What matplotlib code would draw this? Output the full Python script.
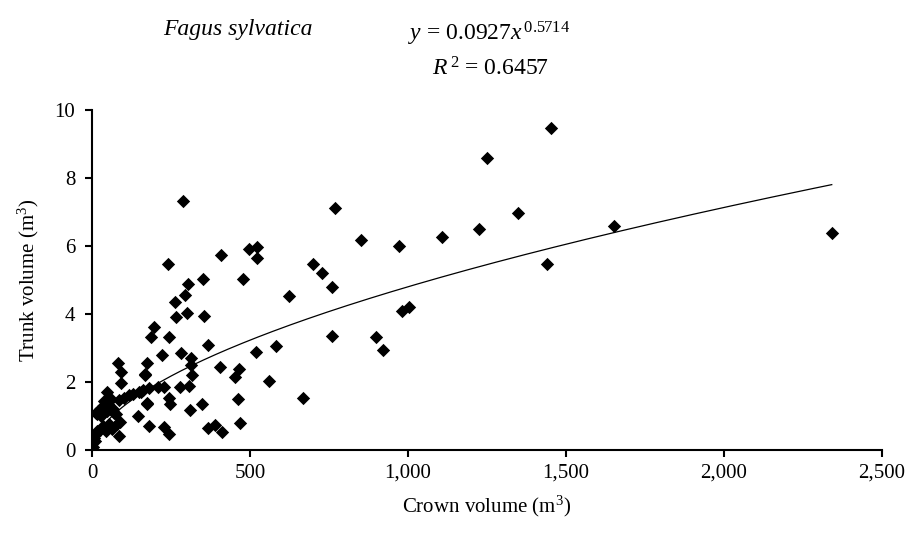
import numpy as np
import matplotlib
matplotlib.use("Agg")
from matplotlib import pyplot as plt
from matplotlib.ticker import FuncFormatter

# crown volume (m3) and trunk volume (m3)
crown = [2341, 1652, 1453, 1441, 1349, 1251, 1225, 1107, 1003, 980, 971, 920,
         898, 851, 770, 759, 758, 728, 700, 667, 622, 581, 559, 521, 521, 518,
         498, 479, 468, 466, 462, 454, 412, 408, 405, 389, 368, 368, 352, 354,
         347, 315, 313, 312, 310, 305, 302, 306, 294, 287, 282, 278, 266, 263,
         247, 245, 245, 244, 241, 229, 228, 220, 208, 197, 187, 180, 174, 173,
         173, 169, 168, 154, 145, 181, 160, 150, 130, 118, 100, 85, 92, 91, 83,
         89, 86, 46, 15, 20, 25, 30, 35, 40, 45, 50, 55, 60, 28, 65, 70, 38, 48,
         75, 80, 5, 10, 15, 25, 35, 45, 55, 62, 3, 1, 8, 0, 13]
trunk = [6.37, 6.58, 9.48, 5.48, 6.96, 8.58, 6.50, 6.27, 4.20, 4.10, 5.99, 2.94,
         3.33, 6.17, 7.13, 3.36, 4.80, 5.20, 5.47, 1.54, 4.53, 3.05, 2.04, 5.96,
         5.64, 2.88, 5.90, 5.02, 0.79, 2.37, 1.50, 2.15, 0.52, 5.73, 2.44, 0.74,
         0.64, 3.10, 5.02, 3.95, 1.35, 2.22, 2.72, 2.49, 1.18, 4.87, 4.02, 1.87,
         4.57, 7.33, 2.84, 1.86, 3.90, 4.36, 1.34, 1.52, 0.46, 3.31, 5.48, 0.67,
         1.85, 2.79, 1.85, 3.63, 3.31, 0.72, 1.38, 2.56, 1.36, 2.21, 2.24, 1.72,
         1.00, 1.82, 1.76, 1.72, 1.66, 1.62, 1.52, 1.46, 1.97, 2.28, 2.55, 0.81,
         0.41, 1.72, 1.05, 1.15, 1.20, 1.10, 1.30, 1.25, 1.40, 1.35, 1.45, 1.50,
         1.00, 1.20, 1.10, 1.45, 1.15, 1.05, 0.75, 0.35, 0.45, 0.55, 0.60, 0.70,
         0.55, 0.75, 0.61, 0.10, 0.20, 0.25, 0.30, 1.08]

coef_a = 0.0927
coef_b = 0.5714
r2 = 0.6457

plt.rcParams['font.family'] = ['Liberation Serif', 'DejaVu Serif']
plt.rcParams['mathtext.fontset'] = 'custom'
plt.rcParams['mathtext.rm'] = 'Liberation Serif'
plt.rcParams['mathtext.it'] = 'Liberation Serif:italic'

fig = plt.figure(figsize=(9.09, 5.4), dpi=100)
ax = fig.add_axes([0.1012, 0.1667, 0.8691, 0.6296])

ax.scatter(crown, trunk, marker='D', s=46, color='black', linewidths=0, zorder=3)

xs = np.linspace(min(crown) + 0.5, max(crown), 300)
ax.plot(xs, coef_a * xs ** coef_b, color='black', linewidth=0.9, zorder=2)

ax.set_xlim(0, 2500)
ax.set_ylim(0, 10)
ax.set_xticks([0, 500, 1000, 1500, 2000, 2500])
ax.set_yticks([0, 2, 4, 6, 8, 10])
ax.xaxis.set_major_formatter(FuncFormatter(lambda v, p: f"{int(v):,}"))
ax.spines['top'].set_visible(False)
ax.spines['right'].set_visible(False)
ax.spines['left'].set_linewidth(1.5)
ax.spines['bottom'].set_linewidth(1.5)
ax.tick_params(direction='out', length=5, width=1.5, labelsize=15)
ax.tick_params(axis='x', pad=5)
ax.tick_params(axis='y', pad=7)

ax.set_xlabel(r'Crown volume (m$^3$)', fontsize=15, labelpad=8)
ax.set_ylabel(r'Trunk volume (m$^3$)', fontsize=15, labelpad=10)

fig.text(0.262, 0.945, 'Fagus sylvatica', fontsize=17, style='italic',
         ha='center', va='center')
fig.text(0.538, 0.938, r'$y$ = %.4f$x^{\,%.4f}$' % (coef_a, coef_b),
         fontsize=17, ha='center', va='center')
fig.text(0.540, 0.872, r'$R^{\,2}$ = %.4f' % r2, fontsize=17,
         ha='center', va='center')

plt.savefig("out.png", dpi=100)
